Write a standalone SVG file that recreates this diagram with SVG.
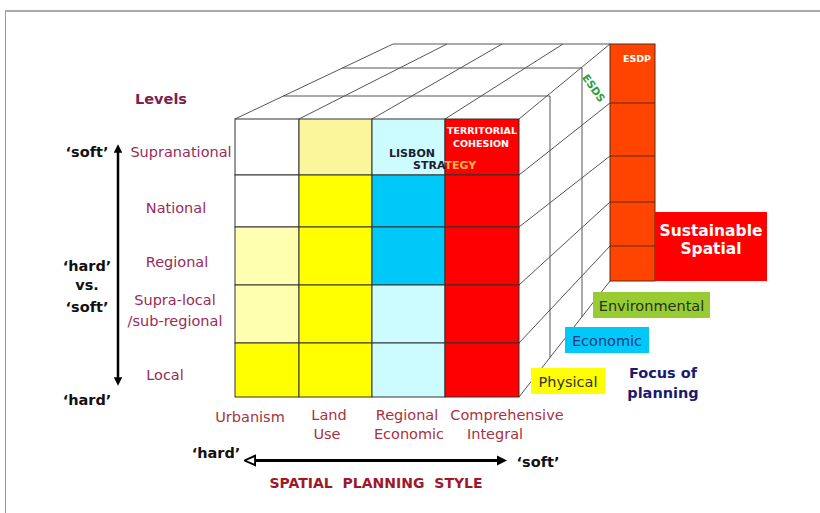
<svg xmlns="http://www.w3.org/2000/svg" width="820" height="513" viewBox="0 0 820 513">
<defs>
<marker id="ah" viewBox="0 0 10 10" refX="2" refY="5" markerWidth="3.4" markerHeight="3.4" orient="auto-start-reverse"><path d="M0,0 L10,5 L0,10 z" fill="#000"/></marker>
<marker id="ahOpen" viewBox="0 0 12 12" refX="3" refY="6" markerWidth="4.2" markerHeight="4.2" orient="auto-start-reverse"><path d="M1,1.5 L11,6 L1,10.5 z" fill="#fff" stroke="#000" stroke-width="1.8"/></marker>
<style>
.t{font-family:"DejaVu Sans",Verdana,sans-serif;}
.lvl{font-size:14.5px;fill:#9a2a58;}
.col{font-size:14.5px;fill:#a8323e;text-anchor:middle;}
.hs{font-size:14.5px;font-weight:bold;fill:#111;text-anchor:middle;}
.g{stroke:#555;stroke-width:1;fill:none;}
.cell{stroke:#333;stroke-width:1;}
.box{font-size:14.5px;}
</style>
</defs>
<rect x="0" y="0" width="820" height="513" fill="#fff"/>
<!-- frame -->
<g id="frame">
<line x1="5" y1="11" x2="820" y2="11" stroke="#aaa" stroke-width="2"/>
<line x1="5.5" y1="11" x2="5.5" y2="513" stroke="#999" stroke-width="1"/>
</g>

<!-- cube wireframe (top and right faces) -->
<g id="cube-top" class="g">
<line x1="235" y1="119" x2="393" y2="44"/>
<line x1="299" y1="119" x2="447" y2="44"/>
<line x1="372" y1="119" x2="502" y2="44"/>
<line x1="445" y1="119" x2="563" y2="44"/>
<line x1="519" y1="119" x2="610" y2="44"/>
<line x1="283" y1="96" x2="550" y2="96"/>
<line x1="342" y1="68" x2="582" y2="68"/>
<line x1="393" y1="44" x2="610" y2="44"/>
</g>
<g id="cube-right" class="g">
<line x1="550" y1="96" x2="550" y2="357.5"/>
<line x1="582" y1="68" x2="582" y2="317"/>
<line x1="519" y1="175" x2="610" y2="103"/>
<line x1="519" y1="227" x2="610" y2="156"/>
<line x1="519" y1="285" x2="610" y2="202"/>
<line x1="519" y1="343" x2="610" y2="246"/>
<line x1="519" y1="397" x2="610" y2="281"/>
</g>

<!-- front face cells -->
<g id="front-face">
<g id="col-urbanism">
<rect class="cell" x="235" y="119" width="64" height="56" fill="#ffffff"/>
<rect class="cell" x="235" y="175" width="64" height="52" fill="#ffffff"/>
<rect class="cell" x="235" y="227" width="64" height="58" fill="#ffffb0"/>
<rect class="cell" x="235" y="285" width="64" height="58" fill="#ffffb0"/>
<rect class="cell" x="235" y="343" width="64" height="54" fill="#ffff00"/>
</g>
<g id="col-landuse">
<rect class="cell" x="299" y="119" width="73" height="56" fill="#fbf69c"/>
<rect class="cell" x="299" y="175" width="73" height="52" fill="#ffff00"/>
<rect class="cell" x="299" y="227" width="73" height="58" fill="#ffff00"/>
<rect class="cell" x="299" y="285" width="73" height="58" fill="#ffff00"/>
<rect class="cell" x="299" y="343" width="73" height="54" fill="#ffff00"/>
</g>
<g id="col-regional">
<rect class="cell" x="372" y="119" width="73" height="56" fill="#ccfcff"/>
<rect class="cell" x="372" y="175" width="73" height="52" fill="#00c8f8"/>
<rect class="cell" x="372" y="227" width="73" height="58" fill="#00c8f8"/>
<rect class="cell" x="372" y="285" width="73" height="58" fill="#ccfcff"/>
<rect class="cell" x="372" y="343" width="73" height="54" fill="#ccfcff"/>
</g>
<g id="col-comprehensive">
<rect class="cell" x="445" y="119" width="74" height="56" fill="#ff0000"/>
<rect class="cell" x="445" y="175" width="74" height="52" fill="#ff0000"/>
<rect class="cell" x="445" y="227" width="74" height="58" fill="#ff0000"/>
<rect class="cell" x="445" y="285" width="74" height="58" fill="#ff0000"/>
<rect class="cell" x="445" y="343" width="74" height="54" fill="#ff0000"/>
</g>
<g id="territorial-cohesion">
<text class="t" x="482" y="134" font-size="9.5" font-weight="bold" fill="#fff" text-anchor="middle">TERRITORIAL</text>
<text class="t" x="481" y="146.5" font-size="9.5" font-weight="bold" fill="#fff" text-anchor="middle">COHESION</text>
</g>
<g id="lisbon-strategy">
<text class="t" x="389" y="157" font-size="11" font-weight="bold" fill="#1a2030">LISBON</text>
<text class="t" x="413" y="168.5" font-size="11" font-weight="bold" fill="#1a2030">STRA<tspan fill="#ffb347">TEGY</tspan></text>
</g>
</g>

<!-- ESDP column -->
<g id="esdp">
<rect x="610" y="44" width="45" height="237" fill="#ff4400" stroke="#5a2a10" stroke-width="1"/>
<g stroke="#5a2a10" stroke-width="1">
<line x1="610" y1="103" x2="655" y2="103"/>
<line x1="610" y1="156" x2="655" y2="156"/>
<line x1="610" y1="202" x2="655" y2="202"/>
<line x1="610" y1="246" x2="655" y2="246"/>
</g>
<text class="t" x="637" y="62" font-size="9.5" font-weight="bold" fill="#fff" text-anchor="middle">ESDP</text>
</g>
<g id="esds">
<text class="t" transform="translate(594,88) rotate(55)" x="0" y="4" font-size="10.5" font-weight="bold" fill="#2e9e3e" text-anchor="middle">ESDS</text>
</g>
<g id="sustainable-spatial">
<rect x="655" y="212" width="112" height="69" fill="#ff0000"/>
<text class="t" x="711" y="236" font-size="15.5" font-weight="bold" fill="#fff" text-anchor="middle">Sustainable</text>
<text class="t" x="711" y="254" font-size="15.5" font-weight="bold" fill="#fff" text-anchor="middle">Spatial</text>
</g>

<!-- focus labels -->
<g id="environmental">
<rect x="593" y="292" width="117" height="26" fill="#99cc33"/>
<text class="t box" x="651.5" y="310.5" fill="#23331a" text-anchor="middle">Environmental</text>
</g>
<g id="economic">
<rect x="565" y="327" width="84" height="26" fill="#00c8f8"/>
<text class="t box" x="607" y="345.5" fill="#1f3a80" text-anchor="middle">Economic</text>
</g>
<g id="physical">
<rect x="531" y="368" width="74" height="26" fill="#ffff00"/>
<text class="t box" x="568" y="386.5" fill="#333" text-anchor="middle">Physical</text>
</g>
<g id="focus-of-planning">
<text class="t" x="663" y="378" font-size="14.5" font-weight="bold" fill="#1a1a6e" text-anchor="middle">Focus of</text>
<text class="t" x="663" y="398" font-size="14.5" font-weight="bold" fill="#1a1a6e" text-anchor="middle">planning</text>
</g>

<!-- levels -->
<g id="levels">
<text class="t" x="161" y="104" font-size="14.5" font-weight="bold" fill="#7a1f4f" text-anchor="middle">Levels</text>
<text class="t lvl" x="181" y="157" text-anchor="middle">Supranational</text>
<text class="t lvl" x="176" y="213" text-anchor="middle">National</text>
<text class="t lvl" x="177" y="267" text-anchor="middle">Regional</text>
<text class="t lvl" x="175" y="305" text-anchor="middle">Supra-local</text>
<text class="t lvl" x="175" y="326" text-anchor="middle">/sub-regional</text>
<text class="t lvl" x="165" y="380" text-anchor="middle">Local</text>
</g>
<g id="hardsoft-vertical">
<text class="t hs" x="87" y="157">‘soft’</text>
<text class="t hs" x="87" y="271">‘hard’</text>
<text class="t hs" x="87" y="290">vs.</text>
<text class="t hs" x="87" y="312">‘soft’</text>
<text class="t hs" x="87" y="405">‘hard’</text>
</g>

<!-- styles -->
<g id="styles">
<text class="t col" x="250" y="422">Urbanism</text>
<text class="t col" x="329" y="420">Land</text>
<text class="t col" x="327" y="439">Use</text>
<text class="t col" x="407" y="420">Regional</text>
<text class="t col" x="409" y="439">Economic</text>
<text class="t col" x="507" y="420">Comprehensive</text>
<text class="t col" x="495" y="439">Integral</text>
<text class="t hs" x="216" y="458">‘hard’</text>
<text class="t hs" x="538" y="467">‘soft’</text>
<text class="t" x="376" y="488" font-size="14" font-weight="bold" fill="#a01828" text-anchor="middle" word-spacing="5">SPATIAL PLANNING STYLE</text>
</g>

<!-- connectors -->
<g id="connectors">
<line x1="118" y1="151" x2="118" y2="379" stroke="#000" stroke-width="2.5" marker-start="url(#ah)" marker-end="url(#ah)"/>
<line x1="253" y1="460.5" x2="499" y2="460.5" stroke="#000" stroke-width="3" marker-start="url(#ahOpen)" marker-end="url(#ah)"/>
</g>
</svg>
